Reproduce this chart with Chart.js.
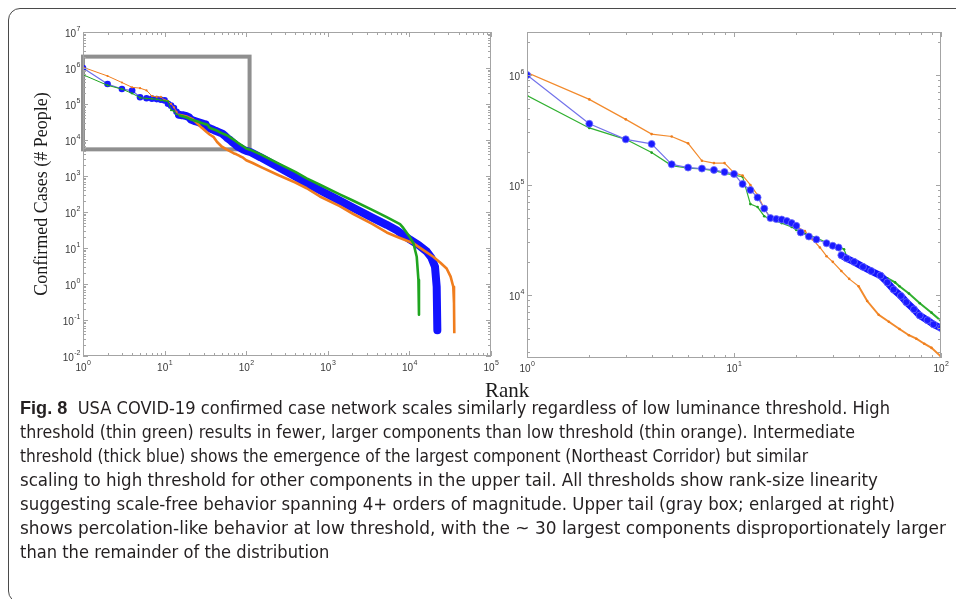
<!DOCTYPE html>
<html>
<head>
<meta charset="utf-8">
<script src="https://cdn.jsdelivr.net/npm/chart.js@4.4.1/dist/chart.umd.min.js"></script>
<style>
  html, body { margin: 0; padding: 0; background: #fff; }
  body { width: 956px; height: 599px; position: relative; overflow: hidden; }
  #frame { position: absolute; left: 8px; top: 8px; width: 1000px; height: 595px; border: 1.4px solid #4a4a4a; border-radius: 12px; box-sizing: border-box; }
  #left { position: absolute; left: 0; top: 0; }
  #right { position: absolute; left: 500px; top: 0; }
  #rank { position: absolute; left: 485px; top: 380px; font: 21px/21px 'Liberation Serif', serif; color: #1a1a1a; }
  #caption { position: absolute; left: 20px; top: 396px; font-family: 'Liberation Sans Narrow', 'DejaVu Sans Condensed', 'Liberation Sans', sans-serif; font-size: 18px; line-height: 24px; color: #231f20; }
  #caption div { white-space: nowrap; width: max-content; transform-origin: 0 0; }
  #caption b { font-family: 'Liberation Sans', sans-serif; }
</style>
</head>
<body>
<div id="frame"></div>
<canvas id="left" width="500" height="380"></canvas>
<canvas id="right" width="456" height="380"></canvas>
<div id="rank">Rank</div>
<div id="caption">
  <div><b>Fig. 8</b>&nbsp;&nbsp;USA COVID-19 confirmed case network scales similarly regardless of low luminance threshold. High</div>
  <div>threshold (thin green) results in fewer, larger components than low threshold (thin orange). Intermediate</div>
  <div>threshold (thick blue) shows the emergence of the largest component (Northeast Corridor) but similar</div>
  <div>scaling to high threshold for other components in the upper tail. All thresholds show rank-size linearity</div>
  <div>suggesting scale-free behavior spanning 4+ orders of magnitude. Upper tail (gray box; enlarged at right)</div>
  <div>shows percolation-like behavior at low threshold, with the ~ 30 largest components disproportionately larger</div>
  <div>than the remainder of the distribution</div>
</div>
<script>
// high threshold (thin green)
const greenRank = [1, 2, 3, 4, 5, 6, 7, 8, 9, 10, 11, 12, 13, 14, 15, 17, 19, 20, 22, 25, 28, 30, 32, 34, 35, 38, 42, 46, 50, 55, 60, 63, 70, 79, 90, 100,
  111, 150, 250, 400, 551, 800, 1400, 2055, 3500, 5270, 7670, 8420, 10000, 11200, 12300, 12900, 13100];
const greenCases = [6.5e5, 3.3e5, 2.6e5, 1.97e5, 1.5e5, 1.42e5, 1.4e5, 1.35e5, 1.28e5, 1.23e5, 1.19e5, 6.7e4, 6.3e4, 5.2e4, 4.9e4, 4.5e4, 4.15e4, 3.9e4, 3.6e4, 3.3e4, 3.0e4, 2.85e4, 2.75e4, 2.6e4, 2.25e4, 2.05e4, 1.9e4, 1.72e4, 1.55e4, 1.42e4, 1.3e4, 1.2e4, 1.03e4, 8.4e3, 6.9e3, 5.8e3,
  5.4e3, 4.0e3, 2.2e3, 1.3e3, 863, 570, 310, 205, 115, 72, 46, 36, 21, 13.5, 5.7, 1.3, 0.14];

// intermediate threshold (thick blue)
const blueRank = [1, 2, 3, 4, 5, 6, 7, 8, 9, 10, 11, 12, 13, 14, 15, 16, 17, 18, 19, 20, 21, 23, 25, 28, 30, 32, 33, 35, 38, 42, 46, 51, 55, 59, 64, 68, 74, 79, 86, 92, 100,
  111, 150, 250, 400, 551, 800, 1400, 2055, 3500, 5270, 7000, 10200, 13000, 16300, 18500, 20600, 21600, 22000];
const blueCases = [1.0e6, 3.6e5, 2.6e5, 2.36e5, 1.54e5, 1.44e5, 1.41e5, 1.37e5, 1.31e5, 1.26e5, 1.02e5, 9.0e4, 7.7e4, 6.1e4, 5.0e4, 4.9e4, 4.85e4, 4.7e4, 4.5e4, 4.25e4, 3.7e4, 3.4e4, 3.2e4, 2.95e4, 2.8e4, 2.7e4, 2.3e4, 2.15e4, 2.0e4, 1.8e4, 1.65e4, 1.5e4, 1.3e4, 1.12e4, 9.8e3, 8.6e3, 7.4e3, 6.5e3, 5.9e3, 5.4e3, 5.0e3,
  4.7e3, 3.3e3, 1.75e3, 960, 627, 400, 207, 130, 70, 44, 31, 17, 12, 8, 5.5, 3.0, 0.84, 0.052];

// low threshold (thin orange)
const orangeRank = [1, 2, 3, 4, 5, 6, 7, 8, 9, 10, 11, 12, 13, 14, 15, 17, 19, 22, 24, 26, 28, 30, 33, 36, 40, 44, 50, 56, 63, 70, 76, 83, 90, 100,
  120, 150, 250, 400, 551, 800, 1400, 2055, 3500, 5270, 7000, 11200, 15000, 19600, 24000, 28600, 32000, 34500, 35200, 35500];
const orangeCases = [1.05e6, 6.0e5, 3.95e5, 2.9e5, 2.76e5, 2.39e5, 1.66e5, 1.58e5, 1.58e5, 1.29e5, 1.22e5, 1.0e5, 8.1e4, 6.1e4, 5.0e4, 4.7e4, 4.4e4, 3.8e4, 3.2e4, 2.7e4, 2.25e4, 2.0e4, 1.65e4, 1.4e4, 1.2e4, 8.8e3, 6.6e3, 5.7e3, 4.9e3, 4.3e3, 4.0e3, 3.6e3, 3.3e3, 2.75e3,
  2.3e3, 1.8e3, 1.05e3, 660, 457, 270, 145, 88, 47, 27, 20.6, 13.5, 8.6, 5.7, 3.9, 2.7, 1.6, 0.84, 0.3, 0.043];

// axis ticks (labels written base^exponent)
const leftXTicks = [1, 10, 100, 1e3, 1e4, 1e5];
const leftXLabels = ['10^0', '10^1', '10^2', '10^3', '10^4', '10^5'];
const leftYTicks = [1e-2, 1e-1, 1, 10, 100, 1e3, 1e4, 1e5, 1e6, 1e7];
const leftYLabels = ['10^-2', '10^-1', '10^0', '10^1', '10^2', '10^3', '10^4', '10^5', '10^6', '10^7'];
const rightXTicks = [1, 10, 100];
const rightXLabels = ['10^0', '10^1', '10^2'];
const rightYTicks = [1e4, 1e5, 1e6];
const rightYLabels = ['10^4', '10^5', '10^6'];

// gray box marking the upper tail (enlarged at right)
const boxRank = [1, 110];
const boxCases = [5.5e3, 2.07e6];

const pts = (xs, ys) => xs.map((x, i) => ({ x: x, y: ys[i] }));
const baseFont = "10px 'Liberation Sans', sans-serif";
const expFont = "7px 'Liberation Sans', sans-serif";

// "10" with a raised exponent; anchor is the middle of the "10"
function drawPow(ctx, label, x, y, align) {
  const [base, exp] = label.split('^');
  ctx.font = baseFont;
  const wb = ctx.measureText(base).width;
  ctx.font = expFont;
  const we = ctx.measureText(exp).width;
  const left = align === 'center' ? x - (wb + we) / 2 : x - wb - we;
  ctx.textAlign = 'left';
  ctx.textBaseline = 'middle';
  ctx.font = baseFont;
  ctx.fillText(base, left, y);
  ctx.font = expFont;
  ctx.fillText(exp, left + wb + 0.5, y - 5);
}

// MATLAB-like box with inward major/minor ticks and power-of-ten labels
const framePlugin = {
  id: 'frame',
  afterDatasetsDraw(chart, args, opts) {
    const { ctx, chartArea: a, scales } = chart;
    const marks = s => {
      const out = [];
      const lo = Math.floor(Math.log10(s.min)), hi = Math.ceil(Math.log10(s.max));
      for (let e = lo; e <= hi; e++) {
        for (let k = 1; k < 10; k++) {
          const v = k * Math.pow(10, e);
          if (v >= s.min * 0.999 && v <= s.max * 1.001) out.push({ v: v, major: k === 1 });
        }
      }
      return out;
    };
    ctx.save();
    ctx.strokeStyle = '#a4a4a4';
    ctx.lineWidth = 1;
    ctx.strokeRect(a.left + 0.5, a.top + 0.5, a.right - a.left - 1, a.bottom - a.top - 1);
    ctx.beginPath();
    marks(scales.x).forEach(m => {
      const px = Math.round(scales.x.getPixelForValue(m.v)) + 0.5;
      const len = m.major ? 5 : 3;
      ctx.moveTo(px, a.bottom); ctx.lineTo(px, a.bottom - len);
      ctx.moveTo(px, a.top); ctx.lineTo(px, a.top + len);
    });
    marks(scales.y).forEach(m => {
      const py = Math.round(scales.y.getPixelForValue(m.v)) + 0.5;
      const len = m.major ? 5 : 3;
      ctx.moveTo(a.left, py); ctx.lineTo(a.left + len, py);
      ctx.moveTo(a.right, py); ctx.lineTo(a.right - len, py);
    });
    ctx.stroke();

    ctx.fillStyle = '#3a3a3a';
    opts.xTicks.forEach((v, i) => drawPow(ctx, opts.xLabels[i], scales.x.getPixelForValue(v), a.bottom + opts.xGap, 'center'));
    opts.yTicks.forEach((v, i) => drawPow(ctx, opts.yLabels[i], a.left - 3, scales.y.getPixelForValue(v) + 2, 'right'));
    ctx.restore();
  }
};

const grayBox = {
  id: 'grayBox',
  beforeDatasetsDraw(chart) {
    const { ctx, scales: { x, y } } = chart;
    const x0 = x.getPixelForValue(boxRank[0]), x1 = x.getPixelForValue(boxRank[1]);
    const y0 = y.getPixelForValue(boxCases[1]), y1 = y.getPixelForValue(boxCases[0]);
    ctx.save();
    ctx.strokeStyle = '#8f8f8f';
    ctx.lineWidth = 4;
    ctx.strokeRect(x0, y0, x1 - x0, y1 - y0);
    ctx.restore();
  }
};

function logAxis(min, max, ticks, fitKey, fitSize, title) {
  const axis = {
    type: 'logarithmic',
    min: min,
    max: max,
    grid: { display: false, drawTicks: false },
    border: { display: false },
    afterBuildTicks: s => { s.ticks = ticks.map(v => ({ value: v })); },
    afterFit: s => { s[fitKey] = fitSize; },
    ticks: { display: false }
  };
  if (title) {
    axis.title = { display: true, text: title, color: '#1a1a1a', padding: 0,
      font: { family: "'Liberation Serif', serif", size: 18 } };
  }
  return axis;
}

Chart.defaults.animation = false;
Chart.defaults.plugins.legend.display = false;
Chart.defaults.plugins.tooltip.enabled = false;

// full distribution
new Chart(document.getElementById('left'), {
  type: 'scatter',
  data: {
    datasets: [
      {
        data: pts(blueRank, blueCases),
        showLine: true,
        order: 3,
        borderColor: '#1212ff',
        backgroundColor: '#1a1aff',
        borderJoinStyle: 'round',
        borderCapStyle: 'round',
        segment: {
          borderWidth: c => c.p0.parsed.x >= 15 ? 8 : 1.2,
          borderColor: c => c.p0.parsed.x >= 15 ? '#1212ff' : '#6d6de8'
        },
        pointRadius: c => (c.raw && c.raw.x < 15) ? 3.3 : 0,
        pointBorderWidth: 0
      },
      {
        data: pts(orangeRank, orangeCases),
        showLine: true,
        order: 2,
        borderColor: '#f07d1d',
        backgroundColor: '#f07d1d',
        borderJoinStyle: 'round',
        segment: { borderWidth: c => c.p0.parsed.x >= 15 ? 2.6 : 1 },
        pointRadius: c => (c.raw && c.raw.x < 15) ? 1.1 : 0,
        pointBorderWidth: 0
      },
      {
        data: pts(greenRank, greenCases),
        showLine: true,
        order: 1,
        borderColor: '#1fa51f',
        backgroundColor: '#1fa51f',
        borderJoinStyle: 'round',
        segment: { borderWidth: c => c.p0.parsed.x >= 15 ? 2.6 : 1 },
        pointRadius: c => (c.raw && c.raw.x < 15) ? 1.1 : 0,
        pointBorderWidth: 0
      }
    ]
  },
  options: {
    responsive: false,
    layout: { padding: { left: 31, top: 32, right: 9, bottom: 0 } },
    scales: {
      x: logAxis(1, 1e5, leftXTicks, 'height', 24),
      y: logAxis(1e-2, 1e7, leftYTicks, 'width', 52, 'Confirmed Cases (# People)')
    },
    plugins: {
      frame: { xTicks: leftXTicks, xLabels: leftXLabels, yTicks: leftYTicks, yLabels: leftYLabels, xGap: 12 }
    }
  },
  plugins: [grayBox, framePlugin]
});

// enlarged upper tail
new Chart(document.getElementById('right'), {
  type: 'scatter',
  data: {
    datasets: [
      {
        data: pts(blueRank, blueCases),
        showLine: true,
        order: 1,
        clip: 0,
        borderColor: '#6d6de8',
        backgroundColor: '#1a1aff',
        borderJoinStyle: 'round',
        segment: {
          borderWidth: c => c.p0.parsed.x >= 33 ? 7 : 1.2,
          borderColor: c => c.p0.parsed.x >= 33 ? '#1414ff' : '#7272ea'
        },
        pointRadius: 3.5,
        pointBorderWidth: 1,
        pointBorderColor: 'rgba(110,110,255,0.8)'
      },
      {
        data: pts(orangeRank, orangeCases),
        showLine: true,
        order: 2,
        clip: 0,
        borderColor: '#f28a2c',
        backgroundColor: '#ee7d1c',
        segment: { borderWidth: c => c.p0.parsed.x >= 40 ? 2 : 1.2 },
        pointRadius: 1.3,
        pointBorderWidth: 0
      },
      {
        data: pts(greenRank, greenCases),
        showLine: true,
        order: 3,
        clip: 0,
        borderColor: '#2fb02f',
        backgroundColor: '#1f9f1f',
        segment: { borderWidth: c => c.p0.parsed.x >= 40 ? 2 : 1.2 },
        pointRadius: 1.3,
        pointBorderWidth: 0
      }
    ]
  },
  options: {
    responsive: false,
    layout: { padding: { left: 0, top: 32, right: 15, bottom: 0 } },
    scales: {
      x: logAxis(1, 100, rightXTicks, 'height', 22),
      y: logAxis(2.67e3, 2.46e6, rightYTicks, 'width', 27)
    },
    plugins: {
      frame: { xTicks: rightXTicks, xLabels: rightXLabels, yTicks: rightYTicks, yLabels: rightYLabels, xGap: 11 }
    }
  },
  plugins: [framePlugin]
});

// stretch the full caption lines to the width they have in the figure;
// the short last line takes the average stretch of the others
const captionEnds = [890, 855, 808, 878, 895, 946];
function fitCaption() {
  const lines = document.querySelectorAll('#caption div');
  let sum = 0;
  lines.forEach((d, i) => {
    d.style.transform = 'none';
    if (i >= captionEnds.length) return;
    const k = (captionEnds[i] - 20) / d.getBoundingClientRect().width;
    sum += k;
    d.style.transform = 'scaleX(' + k + ')';
  });
  const avg = sum / captionEnds.length;
  for (let i = captionEnds.length; i < lines.length; i++) lines[i].style.transform = 'scaleX(' + avg + ')';
}
fitCaption();
document.fonts.ready.then(fitCaption);
</script>
</body>
</html>
